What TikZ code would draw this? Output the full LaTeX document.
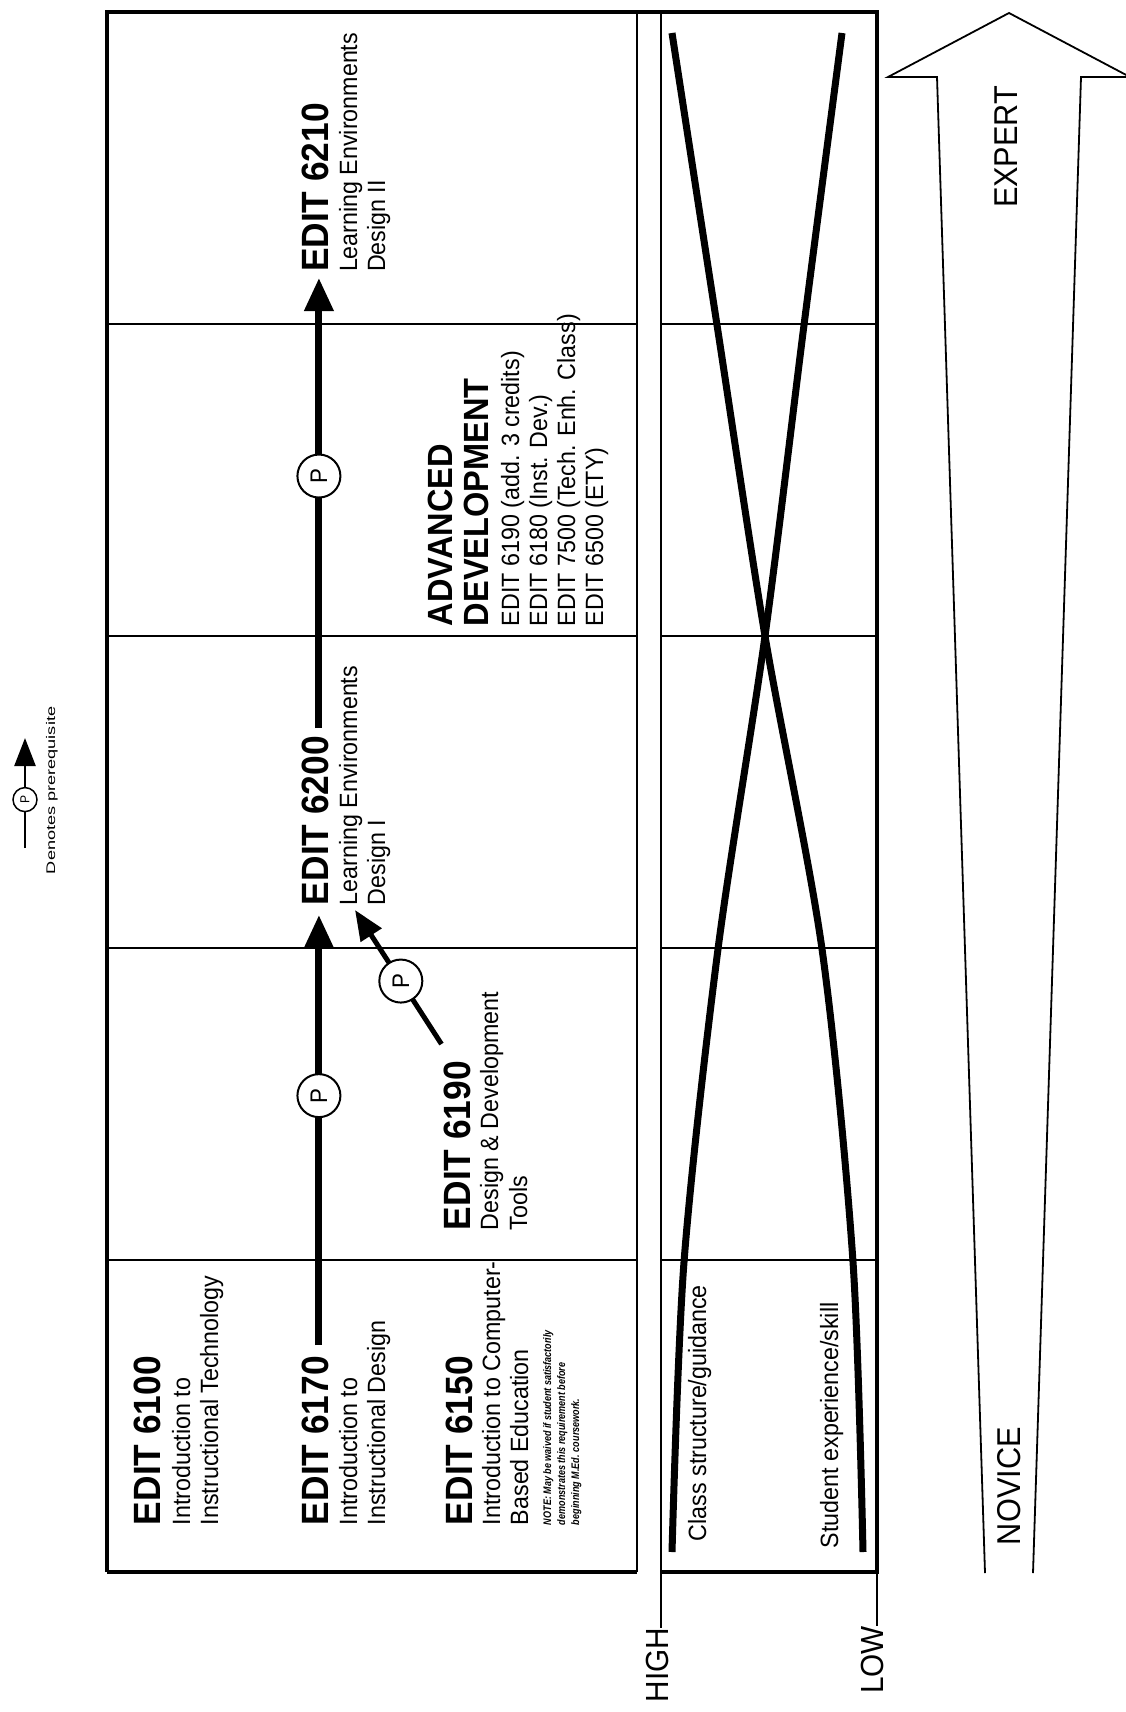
\documentclass[tikz,border=0pt]{standalone}
\usepackage{fontspec}
\setmainfont{Liberation Sans}[FakeStretch=0.93]
\newfontfamily\notefont{Liberation Sans}[FakeStretch=0.82]
\newfontfamily\legendfont{Liberation Sans}[FakeStretch=1.45]
\usetikzlibrary{arrows.meta}
\tikzset{
  rt/.style={rotate=90,anchor=base west,inner sep=0pt,outer sep=0pt},
  ctitle/.style={rt,font={\fontsize{38}{40}\selectfont\bfseries}},
  csub/.style={rt,font={\fontsize{25}{28}\selectfont}},
  cnote/.style={rt,font={\notefont\fontsize{11}{13}\selectfont\bfseries\itshape}},
  advtitle/.style={rt,font={\fontsize{35}{38}\selectfont\bfseries}},
  scalelabel/.style={rt,anchor=east,font={\fontsize{32}{34}\selectfont}},
  arrowlabel/.style={rt,font={\fontsize{33}{35}\selectfont}},
  legendtext/.style={rt,font={\legendfont\fontsize{12.5}{14}\selectfont}},
  pcirc/.style={circle,draw,line width=2pt,fill=white,minimum size=43pt,inner sep=0pt,rotate=90,font={\fontsize{24}{26}\selectfont}},
  pcircs/.style={circle,draw,line width=1.5pt,fill=white,minimum size=24pt,inner sep=0pt,rotate=90,font={\fontsize{13}{14}\selectfont}},
  mainarr/.style={line width=7pt,-{Triangle[length=33pt,width=28pt]}},
  sidearr/.style={line width=5pt,-{Triangle[length=30pt,width=24pt]}},
  legarr/.style={line width=2.5pt,-{Triangle[length=28pt,width=21pt]}},
  thickb/.style={line width=4pt},
  thinb/.style={line width=2pt},
  outl/.style={line width=1.8pt},
  curve/.style={line width=7pt}
}
\begin{document}
\begin{tikzpicture}[x=1pt,y=-1pt]
\useasboundingbox (0,0) rectangle (1126,1712);
% frame
\draw[thickb] (107,1572) -- (107,12) -- (877,12) -- (877,1572) -- (661,1572);
\draw[thickb] (107,1572) -- (637,1572);
\draw[thinb] (637,12) -- (637,1572);
\draw[thinb] (661,12) -- (661,1572);
\foreach \yy in {324,636,948,1260} {
  \draw[thinb] (107,\yy) -- (637,\yy);
  \draw[thinb] (661,\yy) -- (877,\yy);
}
% column 1
\node[ctitle] (t6100) at (160,1525) {EDIT 6100};
\node[csub] (s6100a) at (190,1525) {Introduction to};
\node[csub] (s6100b) at (218,1525) {Instructional Technology};
\node[ctitle] (t6170) at (328,1525) {EDIT 6170};
\node[csub] (s6170a) at (357,1525) {Introduction to};
\node[csub] (s6170b) at (385,1525) {Instructional Design};
\node[ctitle] (t6150) at (472,1525) {EDIT 6150};
\node[csub] (s6150a) at (500,1525) {Introduction to Computer-};
\node[csub] (s6150b) at (528,1525) {Based Education};
\node[cnote] (n1) at (551,1525) {NOTE: May be waived if student satisfactorily};
\node[cnote] (n2) at (565,1525) {demonstrates this requirement before};
\node[cnote] (n3) at (579,1525) {beginning M.Ed. coursework.};
% column 2
\node[ctitle] (t6190) at (470,1230) {EDIT 6190};
\node[csub] (s6190a) at (498,1230) {Design \& Development};
\node[csub] (s6190b) at (527,1230) {Tools};
% column 3
\node[ctitle] (t6200) at (328,905) {EDIT 6200};
\node[csub] (s6200a) at (357,905) {Learning Environments};
\node[csub] (s6200b) at (385,905) {Design I};
% column 4
\node[advtitle] (adv1) at (452,626) {ADVANCED};
\node[advtitle] (adv2) at (488,626) {DEVELOPMENT};
\node[csub] (e1) at (519,626) {EDIT 6190 (add. 3 credits)};
\node[csub] (e2) at (547,626) {EDIT 6180 (Inst. Dev.)};
\node[csub] (e3) at (575,626) {EDIT 7500 (Tech. Enh. Class)};
\node[csub] (e4) at (603,626) {EDIT 6500 (ETY)};
% column 5
\node[ctitle] (t6210) at (328,272) {EDIT 6210};
\node[csub] (s6210a) at (357,272) {Learning Environments};
\node[csub] (s6210b) at (385,272) {Design II};
% prerequisite arrows
\draw[mainarr] ([shift={(4,-11)}]t6170.east) -- node[pcirc,pos=0.58] (p1) {P} ([shift={(4,10)}]t6200.west);
\draw[mainarr] ([shift={(4,-8)}]t6200.east) -- node[pcirc,pos=0.56] (p2) {P} ([shift={(4,6)}]t6210.west);
\draw[sidearr] ([shift={(-2,-17)}]t6190.north east) -- node[pcirc,pos=0.47] (p3) {P} ([shift={(-2,5)}]s6200a.base west);
% curves
\draw[curve] plot[smooth] coordinates {(672,1552) (684,1262) (718,949) (765,636) (804,325) (842,33)};
\draw[curve] plot[smooth] coordinates {(863,1552) (853,1262) (822,949) (765,636) (717,325) (672,33)};
\node[csub] (lclass) at (706,1541) {Class structure/guidance};
\node[csub] (lstud) at (838,1548) {Student experience/skill};
% scale
\node[scalelabel] (high) at (657,1628) {HIGH};
\node[scalelabel] (low) at (872,1626) {LOW};
\coordinate (hb) at (661,1572);
\coordinate (lb) at (877,1572);
\draw[thinb] (hb) -- (hb |- high.east);
\draw[thinb] (lb) -- (lb |- low.east);
% big arrow
\draw[outl] (985,1573) -- (937,77) -- (888,77) -- (1009,13) -- (1130,77) -- (1081,77) -- (1033,1573);
\node[arrowlabel] (expert) at (1017,208) {EXPERT};
\node[arrowlabel] (novice) at (1020,1545) {NOVICE};
% legend
\coordinate (legtail) at (25,848);
\coordinate (legtip) at (25,738);
\draw[legarr] (legtail) -- node[pcircs,pos=0.44] (lp) {P} (legtip);
\node[legendtext] (legtext) at (55,874) {Denotes prerequisite};
\end{tikzpicture}
\end{document}
